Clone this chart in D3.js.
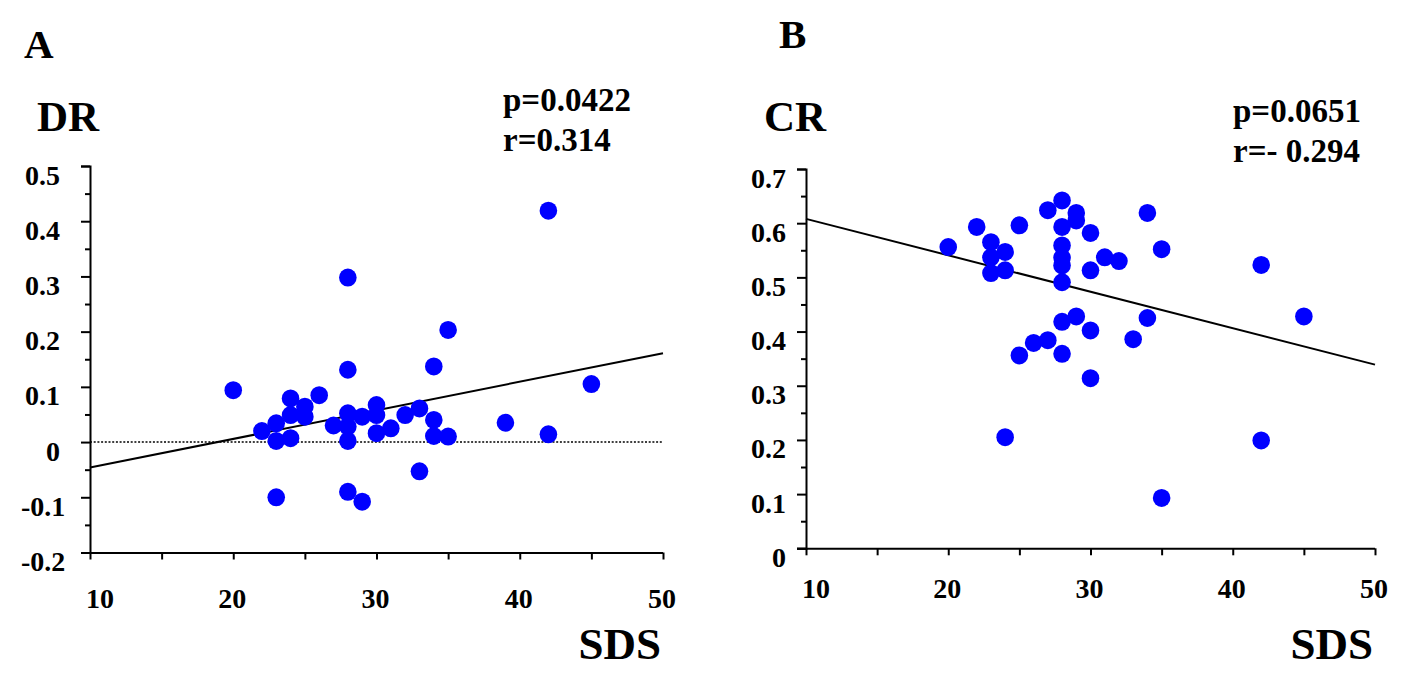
<!DOCTYPE html>
<html>
<head>
<meta charset="utf-8">
<script src="https://cdn.jsdelivr.net/npm/d3@7"></script>
<style>
  html, body { margin: 0; padding: 0; background: #fff; }
  svg { display: block; }
  text { font-family: "Liberation Serif", "Times New Roman", serif; font-weight: bold; fill: #000; }
</style>
</head>
<body>
<svg id="chart" width="1417" height="675"></svg>
<script>
// ---------- Panel A data (SDS vs DR) ----------
const sdsA = [20, 22, 23, 23, 24, 24, 24, 25, 25, 26, 27, 28, 28, 28, 28, 28, 29, 30, 30, 30, 31, 32, 33, 34, 34, 34, 35, 35, 39, 42, 42, 45, 33, 23, 28, 29];
const drA  = [0.094, 0.020, 0.034, 0.002, 0.079, 0.049, 0.007, 0.064, 0.046, 0.085, 0.030, 0.298, 0.131, 0.052, 0.028, 0.002, 0.046, 0.067, 0.049, 0.016, 0.025, 0.049, 0.061, 0.137, 0.040, 0.011, 0.203, 0.010, 0.035, 0.419, 0.014, 0.105, -0.053, -0.100, -0.090, -0.108];
const fitA_x = [10, 50];
const fitA_y = [-0.046, 0.161];
const refA_y = [0, 0];
const xTicksA = [10, 20, 30, 40, 50];
const yTicksA = [0.5, 0.4, 0.3, 0.2, 0.1, 0, -0.1, -0.2];
const yTickLabelsA = ["0.5", "0.4", "0.3", "0.2", "0.1", "0", "-0.1", "-0.2"];
const statsA = ["p=0.0422", "r=0.314"];

// ---------- Panel B data (SDS vs CR) ----------
const sdsB = [20, 22, 23, 23, 23, 24, 24, 25, 25, 26, 27, 27, 28, 28, 28, 28, 28, 28, 28, 28, 29, 29, 29, 30, 30, 30, 30, 31, 32, 33, 34, 34, 35, 42, 45, 24, 42, 35];
const crB  = [0.556, 0.593, 0.565, 0.537, 0.508, 0.547, 0.513, 0.596, 0.356, 0.379, 0.624, 0.384, 0.642, 0.593, 0.559, 0.536, 0.522, 0.491, 0.418, 0.359, 0.619, 0.605, 0.428, 0.582, 0.513, 0.402, 0.314, 0.537, 0.530, 0.386, 0.619, 0.425, 0.552, 0.523, 0.428, 0.205, 0.199, 0.093];
const fitB_x = [10, 50];
const fitB_y = [0.608, 0.339];
const xTicksB = [10, 20, 30, 40, 50];
const yTicksB = [0.7, 0.6, 0.5, 0.4, 0.3, 0.2, 0.1, 0];
const yTickLabelsB = ["0.7", "0.6", "0.5", "0.4", "0.3", "0.2", "0.1", "0"];
const statsB = ["p=0.0651", "r=- 0.294"];

const svg = d3.select("#chart");

function panel(cfg) {
  const g = svg.append("g");
  const x = d3.scaleLinear().domain(cfg.xDomain).range(cfg.xRange);
  const y = d3.scaleLinear().domain(cfg.yDomain).range(cfg.yRange);

  // y axis (major ticks + minor ticks)
  const yAxis = d3.axisLeft(y).tickValues(cfg.yTicks).tickSize(9).tickFormat("");
  g.append("g").attr("transform", `translate(${cfg.xRange[0]},0)`).call(yAxis);
  const minorY = [];
  for (let i = 0; i < cfg.yTicks.length - 1; i++) minorY.push((cfg.yTicks[i] + cfg.yTicks[i + 1]) / 2);
  g.append("g").attr("transform", `translate(${cfg.xRange[0]},0)`)
    .call(d3.axisLeft(y).tickValues(minorY).tickSize(5).tickFormat("").tickSizeOuter(0))
    .select(".domain").remove();

  // x axis
  const minorX = [];
  for (let i = 0; i < cfg.xTicks.length - 1; i++) minorX.push((cfg.xTicks[i] + cfg.xTicks[i + 1]) / 2);
  const xAx = g.append("g").attr("transform", `translate(0,${cfg.yRange[0]})`)
    .call(d3.axisBottom(x).tickValues(cfg.xTicks.concat(minorX)).tickSize(7).tickSizeOuter(0).tickFormat(""));
  xAx.select(".domain").attr("d", `M${cfg.xRange[0] - 9},0.5H${cfg.xRange[1]}`);

  g.selectAll(".domain, .tick line").attr("stroke", "#000").attr("stroke-width", 2);

  // y tick labels
  g.selectAll(".ylab").data(cfg.yTicks).enter().append("text")
    .attr("class", "ylab")
    .attr("x", (d) => d < 0 ? cfg.negLabelX : cfg.labelRightX)
    .attr("text-anchor", (d) => d < 0 ? "start" : "end")
    .attr("y", (d) => y(d) + 18.5)
    .attr("font-size", 28)
    .text((d, i) => cfg.yLabels[i]);

  // x tick labels
  g.selectAll(".xlab").data(cfg.xTicks).enter().append("text")
    .attr("class", "xlab")
    .attr("x", (d) => x(d) + (d === cfg.xTicks[0] ? 10 : -1))
    .attr("text-anchor", "middle")
    .attr("y", cfg.yRange[0] + cfg.xLabelDy)
    .attr("font-size", 28)
    .text((d) => d);

  // reference dotted line
  if (cfg.refY) {
    g.append("line")
      .attr("x1", x(cfg.fitX[0])).attr("x2", x(cfg.fitX[1]))
      .attr("y1", y(cfg.refY[0])).attr("y2", y(cfg.refY[1]))
      .attr("stroke", "#000").attr("stroke-width", 1.5).attr("stroke-dasharray", "2,1.7");
  }

  // regression line
  const line = d3.line().x((d) => x(d[0])).y((d) => y(d[1]));
  g.append("path")
    .datum(cfg.fitX.map((v, i) => [v, cfg.fitY[i]]))
    .attr("d", line).attr("fill", "none").attr("stroke", "#000").attr("stroke-width", 2);

  // points
  g.selectAll(".pt").data(cfg.xs.map((v, i) => [v, cfg.ys[i]])).enter().append("ellipse")
    .attr("class", "pt")
    .attr("cx", (d) => x(d[0])).attr("cy", (d) => y(d[1]))
    .attr("rx", 8.8).attr("ry", 9)
    .attr("fill", "#0000FF");

  // texts
  g.append("text").attr("x", cfg.letterPos[0]).attr("y", cfg.letterPos[1]).attr("font-size", 41).text(cfg.letter);
  g.append("text").attr("x", cfg.yTitlePos[0]).attr("y", cfg.yTitlePos[1]).attr("font-size", 43).text(cfg.yTitle);
  g.append("text").attr("x", cfg.xRange[1] - 2).attr("y", 659).attr("text-anchor", "end").attr("font-size", 45).text("SDS");
  cfg.stats.forEach((s, i) => {
    g.append("text").attr("x", cfg.statsPos[0]).attr("y", cfg.statsPos[1][i]).attr("font-size", 33).text(s);
  });
}

panel({
  xs: sdsA, ys: drA, fitX: fitA_x, fitY: fitA_y, refY: refA_y,
  xDomain: [10, 50], xRange: [90, 663],
  yDomain: [-0.2, 0.5], yRange: [552.5, 166],
  xTicks: xTicksA, yTicks: yTicksA, yLabels: yTickLabelsA,
  labelRightX: 60, negLabelX: 21, xLabelDy: 55,
  letter: "A", letterPos: [24, 58], yTitle: "DR", yTitlePos: [37, 131],
  stats: statsA, statsPos: [503, [111, 151]]
});

panel({
  xs: sdsB, ys: crB, fitX: fitB_x, fitY: fitB_y, refY: null,
  xDomain: [10, 50], xRange: [806, 1375],
  yDomain: [0, 0.7], yRange: [548.3, 169],
  xTicks: xTicksB, yTicks: yTicksB, yLabels: yTickLabelsB,
  labelRightX: 786, negLabelX: 750, xLabelDy: 50,
  letter: "B", letterPos: [779, 48], yTitle: "CR", yTitlePos: [764, 131],
  stats: statsB, statsPos: [1233, [122, 162]]
});
</script>
</body>
</html>
